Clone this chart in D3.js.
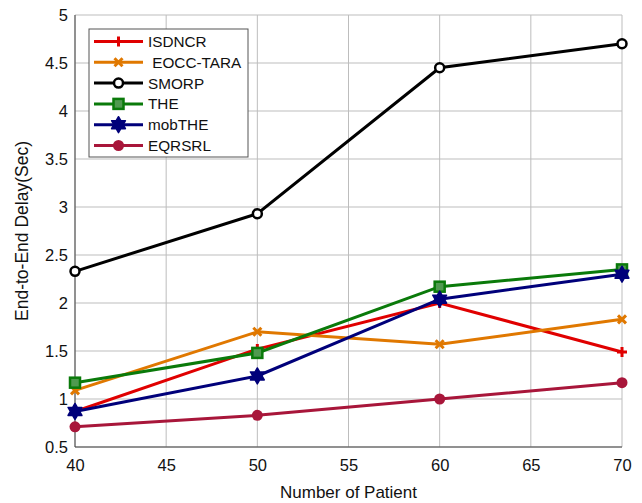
<!DOCTYPE html>
<html>
<head>
<meta charset="utf-8">
<script src="https://cdn.jsdelivr.net/npm/d3@7"></script>
<style>
  body { margin: 0; background: #fff; }
  svg { font-family: "Liberation Sans", Arial, sans-serif; }
</style>
</head>
<body>
<div id="chart"></div>
<script>
const chart_width = 642;
const chart_height = 503;
const margin_top = 15;
const margin_right = 20;
const margin_bottom = 56;
const margin_left = 75;

// data
const patients = [40, 50, 60, 70];
const isdncr = [0.87, 1.52, 2.0, 1.49];
const eocc_tara = [1.09, 1.70, 1.57, 1.83];
const smorp = [2.33, 2.93, 4.45, 4.70];
const the_vals = [1.17, 1.48, 2.17, 2.35];
const mobthe = [0.87, 1.24, 2.04, 2.30];
const eqrsrl = [0.71, 0.83, 1.0, 1.17];

const x_ticks = [40, 45, 50, 55, 60, 65, 70];
const y_ticks = [0.5, 1, 1.5, 2, 2.5, 3, 3.5, 4, 4.5, 5];

const series = [
    { name: "ISDNCR", values: isdncr, color: "#e00000", marker: "plus" },
    { name: " EOCC-TARA", values: eocc_tara, color: "#e07800", marker: "cross" },
    { name: "SMORP", values: smorp, color: "#000000", marker: "circle" },
    { name: "THE", values: the_vals, color: "#0a7a0a", marker: "square" },
    { name: "mobTHE", values: mobthe, color: "#00007a", marker: "star" },
    { name: "EQRSRL", values: eqrsrl, color: "#a8163a", marker: "dot" }
];

const svg = d3.select("#chart")
    .append("svg")
    .attr("width", chart_width)
    .attr("height", chart_height);

const x = d3.scaleLinear()
    .domain([40, 70])
    .range([margin_left, chart_width - margin_right]);

const y = d3.scaleLinear()
    .domain([0.5, 5])
    .range([chart_height - margin_bottom, margin_top]);

// grid
svg.append("g")
    .selectAll("line")
    .data(x_ticks)
    .join("line")
    .attr("x1", d => x(d)).attr("x2", d => x(d))
    .attr("y1", y(0.5)).attr("y2", y(5))
    .attr("stroke", "#bdbdbd").attr("stroke-width", 1);

svg.append("g")
    .selectAll("line")
    .data(y_ticks)
    .join("line")
    .attr("x1", x(40)).attr("x2", x(70))
    .attr("y1", d => y(d)).attr("y2", d => y(d))
    .attr("stroke", "#bdbdbd").attr("stroke-width", 1);

// axes
const xAxis = svg.append("g")
    .attr("transform", `translate(0,${y(0.5)})`)
    .call(d3.axisBottom(x).tickValues(x_ticks).tickSize(0).tickPadding(12));

const yAxis = svg.append("g")
    .attr("transform", `translate(${x(40)},0)`)
    .call(d3.axisLeft(y).tickValues(y_ticks).tickSize(0).tickPadding(7).tickFormat(d3.format("")));

[xAxis, yAxis].forEach(a => {
    a.select(".domain").remove();
    a.selectAll("text").attr("font-size", 16.5).attr("fill", "#111")
        .attr("font-family", "Liberation Sans, Arial, sans-serif");
});

// left and bottom axis lines
svg.append("line")
    .attr("x1", x(40)).attr("x2", x(40))
    .attr("y1", y(0.5)).attr("y2", y(5))
    .attr("stroke", "#444").attr("stroke-width", 1);
svg.append("line")
    .attr("x1", x(40)).attr("x2", x(70))
    .attr("y1", y(0.5)).attr("y2", y(0.5))
    .attr("stroke", "#444").attr("stroke-width", 1);

svg.append("text")
    .attr("x", (x(40) + x(70)) / 2)
    .attr("y", chart_height - 5)
    .attr("text-anchor", "middle")
    .attr("font-size", 17)
    .attr("fill", "#111")
    .text("Number of Patient");

svg.append("text")
    .attr("transform", `translate(28,${(y(0.5) + y(5)) / 2}) rotate(-90)`)
    .attr("text-anchor", "middle")
    .attr("font-size", 17.5)
    .attr("fill", "#111")
    .text("End-to-End Delay(Sec)");

// six point star (hexagram) path
function hexagram(r) {
    const pts = [];
    for (let k = 0; k < 12; k++) {
        const a = -Math.PI / 2 + k * Math.PI / 6;
        const rr = k % 2 === 0 ? r : r * 0.58;
        pts.push([rr * Math.cos(a), rr * Math.sin(a)]);
    }
    return "M" + pts.map(p => p.join(",")).join("L") + "Z";
}

// marker drawing
function drawMarker(g, type, color, cx, cy) {
    if (type === "plus") {
        g.append("path").attr("d", `M${cx - 5},${cy}H${cx + 5}M${cx},${cy - 5}V${cy + 5}`)
            .attr("stroke", color).attr("stroke-width", 3);
    } else if (type === "cross") {
        g.append("path").attr("d", `M${cx - 4},${cy - 4}L${cx + 4},${cy + 4}M${cx - 4},${cy + 4}L${cx + 4},${cy - 4}`)
            .attr("stroke", color).attr("stroke-width", 3);
    } else if (type === "circle") {
        g.append("circle").attr("cx", cx).attr("cy", cy).attr("r", 4.5)
            .attr("fill", "#fff").attr("stroke", color).attr("stroke-width", 2.5);
    } else if (type === "square") {
        g.append("rect").attr("x", cx - 5).attr("y", cy - 5).attr("width", 10).attr("height", 10)
            .attr("fill", "#4f9a4f").attr("stroke", color).attr("stroke-width", 2.5);
    } else if (type === "star") {
        g.append("path").attr("d", hexagram(8))
            .attr("transform", `translate(${cx},${cy})`)
            .attr("fill", color).attr("stroke", color).attr("stroke-width", 1.5)
            .attr("stroke-linejoin", "round");
    } else if (type === "dot") {
        g.append("circle").attr("cx", cx).attr("cy", cy).attr("r", 5.5)
            .attr("fill", color);
    }
}

const line = d3.line()
    .x((d, i) => x(patients[i]))
    .y(d => y(d));

series.forEach(s => {
    const g = svg.append("g");
    g.append("path")
        .attr("d", line(s.values))
        .attr("fill", "none")
        .attr("stroke", s.color)
        .attr("stroke-width", 3);
    s.values.forEach((v, i) => drawMarker(g, s.marker, s.color, x(patients[i]), y(v)));
});

// legend
const legend = svg.append("g").attr("transform", "translate(89,29)");
legend.append("rect")
    .attr("x", 0).attr("y", 0)
    .attr("width", 159).attr("height", 128)
    .attr("fill", "#fff").attr("stroke", "#555").attr("stroke-width", 1);

series.forEach((s, i) => {
    const ly = 12.5 + i * 20.8;
    const g = legend.append("g");
    g.append("line")
        .attr("x1", 5).attr("x2", 54)
        .attr("y1", ly).attr("y2", ly)
        .attr("stroke", s.color).attr("stroke-width", 3);
    drawMarker(g, s.marker, s.color, 29.5, ly);
    g.append("text")
        .attr("x", 59).attr("y", ly + 5.5)
        .attr("font-size", 15.3)
        .attr("fill", "#111")
        .attr("xml:space", "preserve")
        .style("white-space", "pre")
        .text(s.name);
});
</script>
</body>
</html>
